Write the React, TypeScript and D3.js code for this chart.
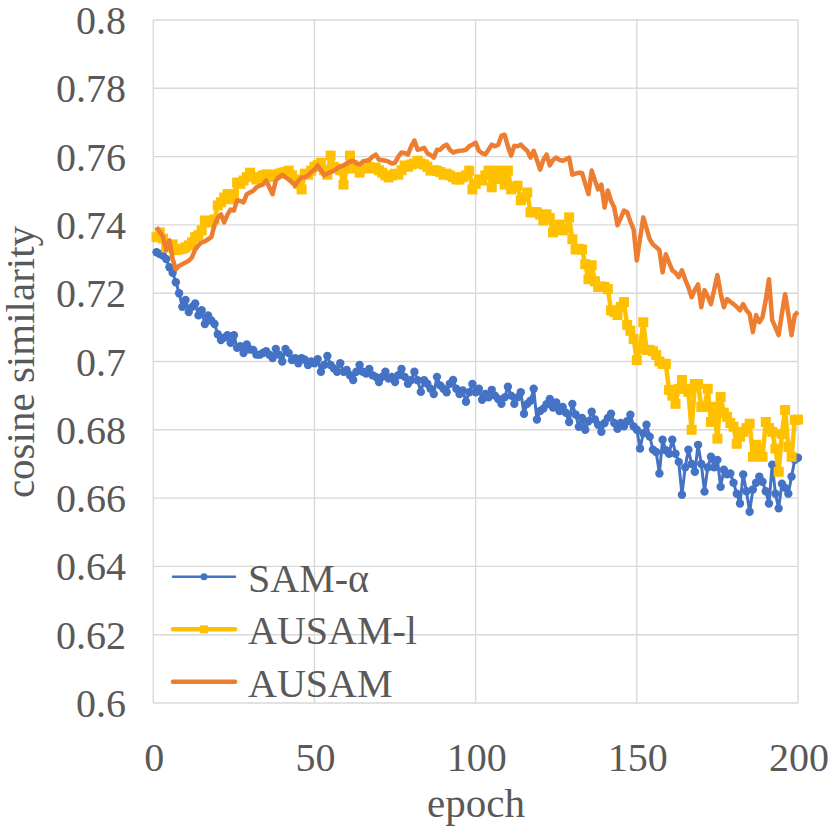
import { useEffect, useRef } from 'react';
import * as d3 from 'd3';

// cosine similarity per epoch (1..200)
const samAlpha = [
  0.732, 0.7315, 0.731, 0.730, 0.7276, 0.726, 0.7232, 0.720, 0.716, 0.718,
  0.7145, 0.716, 0.717, 0.7135, 0.715, 0.711, 0.7135, 0.712, 0.711, 0.708,
  0.7063, 0.707, 0.7077, 0.7055, 0.7077, 0.704, 0.7045, 0.7025, 0.705, 0.7035,
  0.7034, 0.702, 0.702, 0.7025, 0.703, 0.702, 0.701, 0.7037, 0.702, 0.700,
  0.7037, 0.7025, 0.7004, 0.701, 0.6995, 0.701, 0.7005, 0.699, 0.700, 0.6995,
  0.7007, 0.697, 0.699, 0.7016, 0.699, 0.698, 0.697, 0.6995, 0.697, 0.6975,
  0.696, 0.6946, 0.697, 0.699, 0.697, 0.6965, 0.6978, 0.696, 0.6955, 0.694,
  0.6955, 0.697, 0.695, 0.6955, 0.694, 0.696, 0.6978, 0.6955, 0.6935, 0.6946,
  0.697, 0.6945, 0.6911, 0.6945, 0.6935, 0.692, 0.6905, 0.6955, 0.693, 0.692,
  0.691, 0.6935, 0.6946, 0.692, 0.6905, 0.6915, 0.6882, 0.691, 0.6934, 0.691,
  0.692, 0.6888, 0.6905, 0.6895, 0.6917, 0.690, 0.689, 0.6876, 0.6895, 0.6926,
  0.690, 0.6876, 0.6895, 0.691, 0.6847, 0.6876, 0.6885, 0.692, 0.683, 0.6855,
  0.6862, 0.6875, 0.689, 0.6865, 0.688, 0.6855, 0.6867, 0.685, 0.6823, 0.6876,
  0.6845, 0.6809, 0.6835, 0.680, 0.6825, 0.6853, 0.683, 0.6815, 0.6794, 0.682,
  0.6835, 0.6847, 0.682, 0.6803, 0.682, 0.681, 0.6825, 0.6844, 0.681, 0.680,
  0.6745, 0.679, 0.6815, 0.678, 0.6742, 0.6735, 0.6672, 0.6771, 0.674, 0.673,
  0.6771, 0.673, 0.6706, 0.661, 0.669, 0.6742, 0.670, 0.6677, 0.6756, 0.670,
  0.6619, 0.669, 0.6721, 0.669, 0.6712, 0.6633, 0.6683, 0.667, 0.6672, 0.6645,
  0.6613, 0.6584, 0.6669, 0.662, 0.656, 0.6625, 0.6645, 0.6663, 0.6648, 0.662,
  0.6584, 0.6698, 0.6613, 0.657, 0.6642, 0.663, 0.6613, 0.6663, 0.6712, 0.6718,
];

const ausamL = [
  0.7364, 0.7378, 0.736, 0.7334, 0.734, 0.7343, 0.7326, 0.7328, 0.733, 0.7334,
  0.734, 0.7349, 0.7364, 0.737, 0.7384, 0.7413, 0.741, 0.7407, 0.7416, 0.7457,
  0.7466, 0.748, 0.749, 0.7475, 0.749, 0.7524, 0.752, 0.753, 0.754, 0.7553,
  0.754, 0.7533, 0.754, 0.7545, 0.7548, 0.7545, 0.754, 0.7547, 0.755, 0.7553,
  0.7555, 0.7559, 0.7545, 0.7533, 0.752, 0.7504, 0.755, 0.7547, 0.7559, 0.757,
  0.7575, 0.7582, 0.756, 0.7547, 0.7603, 0.757, 0.7565, 0.756, 0.7518, 0.7565,
  0.7603, 0.7575, 0.7565, 0.7553, 0.7565, 0.7577, 0.757, 0.7565, 0.7568, 0.756,
  0.7553, 0.7545, 0.7539, 0.7545, 0.755, 0.7547, 0.756, 0.7574, 0.757, 0.7577,
  0.758, 0.7588, 0.758, 0.7577, 0.757, 0.7559, 0.756, 0.7559, 0.7555, 0.7547,
  0.755, 0.7545, 0.754, 0.7533, 0.7533, 0.754, 0.7545, 0.7559, 0.7504, 0.752,
  0.7533, 0.753, 0.7545, 0.7559, 0.751, 0.7535, 0.7559, 0.7535, 0.7518, 0.7559,
  0.7504, 0.751, 0.7515, 0.7472, 0.748, 0.7495, 0.7437, 0.7437, 0.7437, 0.743,
  0.7413, 0.7431, 0.742, 0.7378, 0.739, 0.7401, 0.7384, 0.739, 0.7422, 0.7358,
  0.7328, 0.733, 0.7328, 0.7285, 0.7241, 0.7282, 0.7235, 0.7218, 0.722, 0.7218,
  0.7212, 0.715, 0.7145, 0.7136, 0.716, 0.7174, 0.7107, 0.709, 0.7066, 0.7004,
  0.704, 0.7115, 0.7034, 0.7034, 0.703, 0.7019, 0.700, 0.6993, 0.6993, 0.6917,
  0.690, 0.6876, 0.692, 0.6946, 0.692, 0.6911, 0.680, 0.6934, 0.6934, 0.6867,
  0.6867, 0.692, 0.6823, 0.6867, 0.6774, 0.6896, 0.685, 0.6838, 0.682, 0.6809,
  0.6759, 0.678, 0.6794, 0.6805, 0.6818, 0.6721, 0.6756, 0.674, 0.6721, 0.6823,
  0.6805, 0.6794, 0.6745, 0.6677, 0.6788, 0.6858, 0.675, 0.6721, 0.6829, 0.683,
];

const ausam = [
  0.7393, 0.738, 0.7365, 0.7326, 0.7355, 0.730, 0.727, 0.728, 0.7285, 0.729,
  0.7295, 0.7305, 0.7328, 0.734, 0.7349, 0.7352, 0.7358, 0.7364, 0.740, 0.7422,
  0.7431, 0.7407, 0.743, 0.7445, 0.7442, 0.7472, 0.747, 0.7466, 0.749, 0.7495,
  0.750, 0.751, 0.7515, 0.7518, 0.753, 0.751, 0.749, 0.753, 0.754, 0.7547,
  0.754, 0.7533, 0.7525, 0.7515, 0.753, 0.7539, 0.754, 0.7545, 0.7555, 0.7562,
  0.7574, 0.756, 0.7545, 0.755, 0.7555, 0.7559, 0.7565, 0.757, 0.7574, 0.758,
  0.7585, 0.7588, 0.758, 0.7577, 0.7585, 0.7588, 0.759, 0.760, 0.7606, 0.7591,
  0.759, 0.7588, 0.7585, 0.758, 0.7582, 0.760, 0.7612, 0.761, 0.7606, 0.763,
  0.7647, 0.762, 0.7622, 0.7626, 0.761, 0.7605, 0.7597, 0.762, 0.762, 0.763,
  0.7635, 0.762, 0.7612, 0.7615, 0.7617, 0.7618, 0.762, 0.763, 0.7635, 0.7641,
  0.7617, 0.761, 0.7606, 0.762, 0.7635, 0.763, 0.7635, 0.7661, 0.7664, 0.763,
  0.7603, 0.7632, 0.763, 0.7635, 0.7625, 0.7617, 0.7597, 0.7617, 0.759, 0.7562,
  0.759, 0.7606, 0.7574, 0.759, 0.7597, 0.759, 0.7588, 0.7592, 0.7597, 0.7547,
  0.755, 0.7553, 0.7552, 0.752, 0.749, 0.7559, 0.753, 0.7504, 0.7518, 0.7451,
  0.7501, 0.747, 0.7451, 0.7399, 0.742, 0.7442, 0.7437, 0.741, 0.7387, 0.7296,
  0.736, 0.7422, 0.739, 0.7358, 0.7343, 0.7335, 0.7326, 0.7261, 0.7314, 0.729,
  0.7267, 0.726, 0.7247, 0.7267, 0.724, 0.7218, 0.7188, 0.721, 0.7226, 0.7159,
  0.7209, 0.719, 0.7168, 0.721, 0.7253, 0.720, 0.7159, 0.7183, 0.7175, 0.7168,
  0.716, 0.715, 0.7168, 0.715, 0.7139, 0.7086, 0.7136, 0.7115, 0.713, 0.718,
  0.7241, 0.7121, 0.710, 0.7077, 0.714, 0.7197, 0.714, 0.7077, 0.7136, 0.7145,
];

const xTicks = [0, 50, 100, 150, 200];
const yTicks = [0.6, 0.62, 0.64, 0.66, 0.68, 0.7, 0.72, 0.74, 0.76, 0.78, 0.8];
const seriesNames = ['SAM-α', 'AUSAM-l', 'AUSAM'];
const seriesColors = ['#4472C4', '#FFC000', '#ED7D31'];

export default function App() {
  const svgRef = useRef<SVGSVGElement>(null);

  useEffect(() => {
    if (!svgRef.current) return;
    const svg = d3.select(svgRef.current);
    svg.selectAll('*').remove();

    const font = "'Times New Roman', Times, 'Liberation Serif', Tinos, 'Noto Serif', 'DejaVu Serif', FreeSerif, serif";
    const textColor = '#595959';
    const gridColor = '#D9D9D9';

    const x = d3.scaleLinear().domain([0, 200]).range([153.3, 798]);
    const y = d3.scaleLinear().domain([0.6, 0.8]).range([703, 20]);

    // grid
    const grid = svg.append('g');
    grid.selectAll('.hgrid')
      .data(yTicks)
      .enter().append('line')
      .attr('x1', x(0)).attr('x2', x(200))
      .attr('y1', d => y(d)).attr('y2', d => y(d))
      .attr('stroke', gridColor).attr('stroke-width', 1.4);
    grid.selectAll('.vgrid')
      .data(xTicks)
      .enter().append('line')
      .attr('x1', d => x(d)).attr('x2', d => x(d))
      .attr('y1', y(0.6)).attr('y2', y(0.8))
      .attr('stroke', gridColor).attr('stroke-width', 1.4);

    const texts = svg.append('g')
      .style('font-family', font)
      .style('fill', textColor);

    // tick labels
    texts.append('g').selectAll('text')
      .data(yTicks)
      .enter().append('text')
      .attr('x', 126)
      .attr('y', d => y(d) + 14)
      .attr('text-anchor', 'end')
      .style('font-size', '40px')
      .text(d => d3.format('~g')(d));

    texts.append('g').selectAll('text')
      .data(xTicks)
      .enter().append('text')
      .attr('x', d => x(d) + 1)
      .attr('y', 771)
      .attr('text-anchor', 'middle')
      .style('font-size', '40px')
      .text(d => String(d));

    // axis titles
    texts.append('text')
      .attr('x', 476).attr('y', 817)
      .attr('text-anchor', 'middle')
      .style('font-size', '41px')
      .text('epoch');
    texts.append('text')
      .attr('transform', 'translate(34,362) rotate(-90)')
      .attr('text-anchor', 'middle')
      .style('font-size', '41px')
      .text('cosine similarity');

    const line = d3.line<number>()
      .x((_, i) => x(i + 1))
      .y(d => y(d));

    // SAM-α
    svg.append('path')
      .datum(samAlpha)
      .attr('d', line)
      .attr('fill', 'none')
      .attr('stroke', seriesColors[0])
      .attr('stroke-width', 3)
      .attr('stroke-linejoin', 'round');
    svg.append('g').selectAll('circle')
      .data(samAlpha)
      .enter().append('circle')
      .attr('cx', (_, i) => x(i + 1))
      .attr('cy', d => y(d))
      .attr('r', 4.2)
      .attr('fill', seriesColors[0]);

    // AUSAM-l
    svg.append('path')
      .datum(ausamL)
      .attr('d', line)
      .attr('fill', 'none')
      .attr('stroke', seriesColors[1])
      .attr('stroke-width', 4.5)
      .attr('stroke-linejoin', 'round');
    svg.append('g').selectAll('rect')
      .data(ausamL)
      .enter().append('rect')
      .attr('x', (_, i) => x(i + 1) - 5)
      .attr('y', d => y(d) - 5)
      .attr('width', 10).attr('height', 10)
      .attr('fill', seriesColors[1]);

    // AUSAM
    svg.append('path')
      .datum(ausam)
      .attr('d', line)
      .attr('fill', 'none')
      .attr('stroke', seriesColors[2])
      .attr('stroke-width', 4.5)
      .attr('stroke-linejoin', 'round');

    // legend
    const legend = svg.append('g');
    const rowY = [576.7, 629.3, 681.7];
    seriesNames.forEach((name, i) => {
      const g = legend.append('g').attr('transform', `translate(0,${rowY[i]})`);
      g.append('line')
        .attr('x1', 173).attr('x2', 235)
        .attr('stroke', seriesColors[i])
        .attr('stroke-width', i === 0 ? 2.5 : 4.5)
        .attr('stroke-linecap', 'round');
      if (i === 0) g.append('circle').attr('cx', 204).attr('r', 3.5).attr('fill', seriesColors[i]);
      if (i === 1) g.append('rect').attr('x', 200).attr('y', -4).attr('width', 8).attr('height', 8).attr('fill', seriesColors[i]);
      g.append('text')
        .attr('x', 248).attr('y', 15)
        .style('font-family', font).style('font-size', '40px').style('fill', textColor)
        .text(name);
    });
  }, []);

  return (
    <div style={{ position: 'fixed', left: 0, top: 0, width: 830, height: 830, background: '#fff' }}>
      <svg ref={svgRef} width={830} height={830} viewBox="0 0 830 830" />
    </div>
  );
}
